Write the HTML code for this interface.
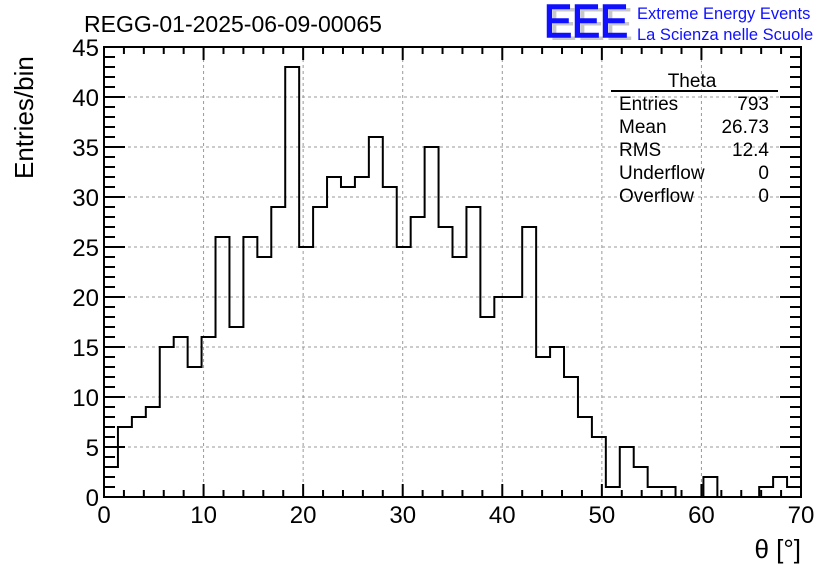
<!DOCTYPE html>
<html><head><meta charset="utf-8"><style>
html,body{margin:0;padding:0;background:#fff;}
svg{display:block;font-family:"Liberation Sans",Arial,sans-serif;}
</style></head><body>
<svg id="chart" width="836" height="572" viewBox="0 0 836 572" xmlns="http://www.w3.org/2000/svg">
<rect x="0" y="0" width="836" height="572" fill="#fff"/>
<text x="84" y="32" font-size="23" fill="#000">REGG-01-2025-06-09-00065</text>
<g>
<text x="549" y="40" font-size="46" fill="#c8c8c8" textLength="84" lengthAdjust="spacingAndGlyphs">EEE</text>
<text x="544" y="37" font-size="46" fill="#1010ff" stroke="#1010ff" stroke-width="1.5" textLength="84" lengthAdjust="spacingAndGlyphs">EEE</text>
<text x="637" y="19" font-size="16.5" fill="#1010ff">Extreme Energy Events</text>
<text x="637" y="40" font-size="16.5" fill="#1010ff">La Scienza nelle Scuole</text>
</g>
<g id="grid"></g>
<g id="hist"></g>
<g id="axes"></g>
<g font-size="19" fill="#000">
<text x="692" y="87" text-anchor="middle">Theta</text>
<line x1="611" y1="91" x2="778" y2="91" stroke="#000" stroke-width="2"/>
<text x="619" y="110">Entries</text><text x="769" y="110" text-anchor="end">793</text>
<text x="619" y="133">Mean</text><text x="769" y="133" text-anchor="end">26.73</text>
<text x="619" y="156">RMS</text><text x="769" y="156" text-anchor="end">12.4</text>
<text x="619" y="179">Underflow</text><text x="769" y="179" text-anchor="end">0</text>
<text x="619" y="202">Overflow</text><text x="769" y="202" text-anchor="end">0</text>
</g>
<text transform="translate(33,179) rotate(-90)" font-size="26">Entries/bin</text>
<text x="801" y="558" font-size="26" text-anchor="end">θ [°]</text>
</svg>
<script>
const counts = [3,7,8,9,15,16,13,16,26,17,26,24,29,43,25,29,32,31,32,36,31,25,28,35,27,24,29,18,20,20,27,14,15,12,8,6,1,5,3,1,1,0,0,2,0,0,0,1,2,1];
const binWidth = 1.4;
const xMin = 0, xMax = 70, yMin = 0, yMax = 45;
const xTickLabels = [0,10,20,30,40,50,60,70];
const yTickLabels = [0,5,10,15,20,25,30,35,40,45];
const L=104,R=801,T=47,B=497;
const NS='http://www.w3.org/2000/svg';
function X(v){return L+(v-xMin)/(xMax-xMin)*(R-L);}
function Y(v){return B-(v-yMin)/(yMax-yMin)*(B-T);}
function mk(tag,attrs,parent){const e=document.createElementNS(NS,tag);for(const k in attrs)e.setAttribute(k,attrs[k]);parent.appendChild(e);return e;}
const grid=document.getElementById('grid');
xTickLabels.forEach(v=>{if(v>xMin&&v<xMax){const l=mk('line',{x1:X(v),y1:T,x2:X(v),y2:B,stroke:'#999','stroke-dasharray':'3,3','stroke-width':1},grid);

}});
yTickLabels.forEach(v=>{if(v>yMin&&v<yMax){const l=mk('line',{x1:L,y1:Y(v),x2:R,y2:Y(v),stroke:'#999','stroke-dasharray':'3,3','stroke-width':1},grid);

}});
const hist=document.getElementById('hist');
let d='M'+X(xMin)+','+Y(0);
counts.forEach((c,i)=>{d+=' L'+X(i*binWidth)+','+Y(c)+' L'+X((i+1)*binWidth)+','+Y(c);});
const p=mk('path',{d:d,fill:'none',stroke:'#000','stroke-width':2},hist);


const axes=document.getElementById('axes');
const fr=mk('rect',{x:L,y:T,width:R-L,height:B-T,fill:'none',stroke:'#000','stroke-width':2},axes);


for(let v=xMin;v<=xMax;v+=2){const maj=v%10===0;const len=maj?13:7;
mk('line',{x1:X(v),y1:B,x2:X(v),y2:B-len,stroke:'#000','stroke-width':2},axes);
mk('line',{x1:X(v),y1:T,x2:X(v),y2:T+len,stroke:'#000','stroke-width':2},axes);}
for(let v=yMin;v<=yMax;v+=1){const maj=v%5===0;const len=maj?21:11;
mk('line',{x1:L,y1:Y(v),x2:L+len,y2:Y(v),stroke:'#000','stroke-width':2},axes);
mk('line',{x1:R,y1:Y(v),x2:R-len,y2:Y(v),stroke:'#000','stroke-width':2},axes);}
xTickLabels.forEach(v=>{const t=mk('text',{x:X(v),y:523,'font-size':24,'text-anchor':'middle'},axes);t.textContent=v;

});
yTickLabels.forEach(v=>{const t=mk('text',{x:99,y:Y(v)+9,'font-size':24,'text-anchor':'end'},axes);t.textContent=v;

});
</script>
</body></html>
